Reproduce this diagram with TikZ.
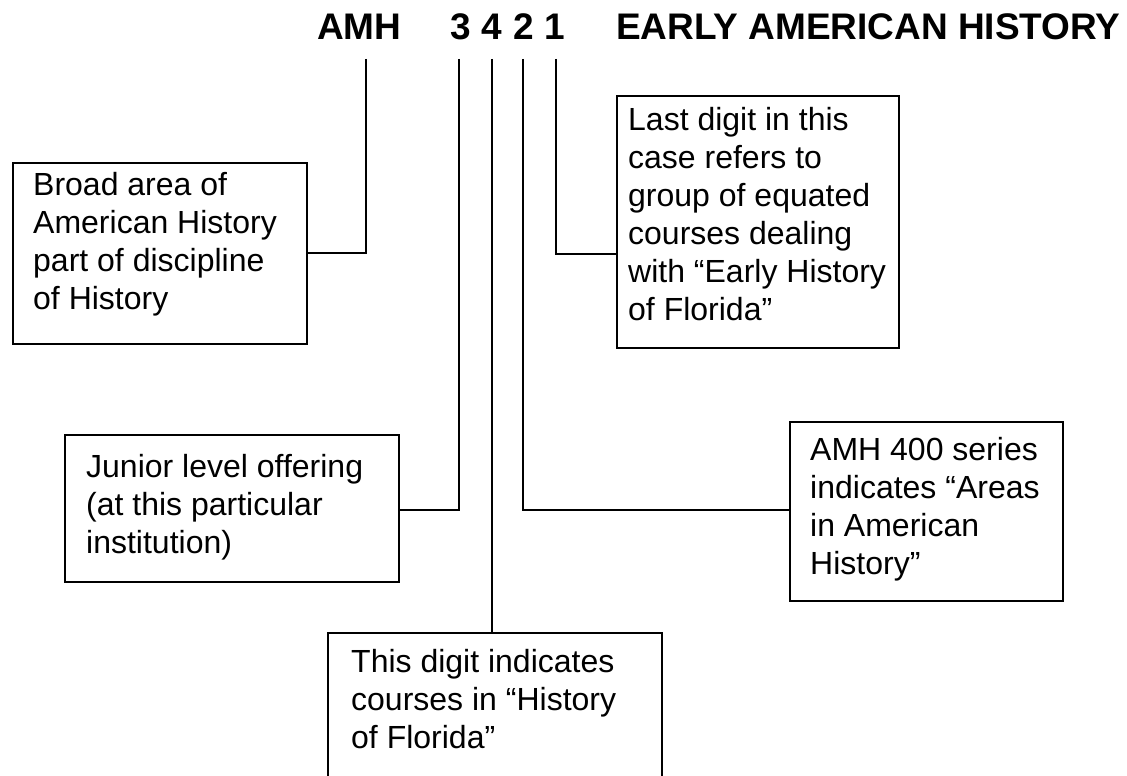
\documentclass[tikz,border=0pt]{standalone}
\usepackage{fontspec}
\setmainfont{Liberation Sans}
\begin{document}
\begin{tikzpicture}[x=1pt,y=-1pt,
  box/.style={draw, line width=1.8pt, inner sep=0pt, anchor=north west},
  txt/.style={font=\fontsize{32}{38}\selectfont, align=left, inner sep=0pt, anchor=north west},
  conn/.style={line width=1.8pt},
  ttl/.style={font=\fontsize{37}{40}\selectfont\bfseries, inner sep=0pt}]
\useasboundingbox (0,0) rectangle (1127,776);
\clip (0,0) rectangle (1127,776);
% title
\node[ttl, anchor=base west] (amh) at (317,40) {AMH};
\node[ttl, anchor=base] (d3) at (461,40) {3};
\node[ttl, anchor=base] (d4) at (492,40) {4};
\node[ttl, anchor=base] (d2) at (524,40) {2};
\node[ttl, anchor=base] (d1) at (555,40) {1};
\node[ttl, anchor=base west] (ttlname) at (616,40) {EARLY AMERICAN HISTORY};
% line tops
\coordinate (p0) at (366,59);
\coordinate (p3) at (459,59);
\coordinate (p4) at (492,59);
\coordinate (p2) at (523,59);
\coordinate (p1) at (556,59);
\coordinate (yA) at (0,253);
\coordinate (yB) at (0,254);
\coordinate (yC) at (0,510);
% boxes
\node[box, minimum width=294pt, minimum height=181pt] (b1) at (12,162) {};
\node[txt] (t1) at (33,172) {Broad area of\\American History\\part of discipline\\of History};
\node[box, minimum width=282pt, minimum height=252pt] (b3) at (616,95) {};
\node[txt] (t3) at (628,107) {Last digit in this\\case refers to\\group of equated\\courses dealing\\with “Early History\\of Florida”};
\node[box, minimum width=334pt, minimum height=147pt] (b2) at (64,434) {};
\node[txt] (t2) at (86,454) {Junior level offering\\(at this particular\\institution)};
\node[box, minimum width=273pt, minimum height=179pt] (b4) at (789,421) {};
\node[txt] (t4) at (810,437) {AMH 400 series\\indicates “Areas\\in American\\History”};
\node[box, minimum width=334pt, minimum height=200pt] (b5) at (327,632) {};
\node[txt] (t5) at (351,649) {This digit indicates\\courses in “History\\of Florida”};
% connectors
\draw[conn] (p0) |- (b1.east |- yA);
\draw[conn] (p3) |- (b2.east |- yC);
\draw[conn] (p4) -- (p4 |- b5.north);
\draw[conn] (p2) |- (b4.west |- yC);
\draw[conn] (p1) |- (b3.west |- yB);
\end{tikzpicture}
\end{document}
